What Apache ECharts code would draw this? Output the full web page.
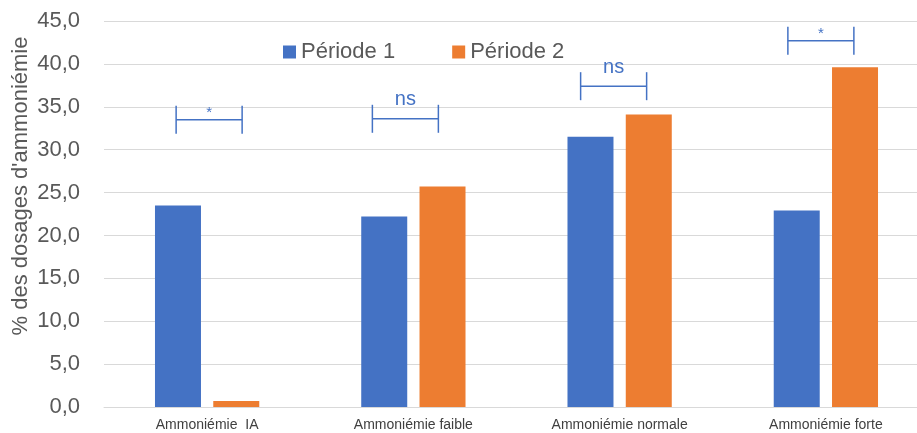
<!DOCTYPE html>
<html>
<head>
<meta charset="utf-8">
<title>Ammoniémie</title>
<script src="https://cdn.jsdelivr.net/npm/echarts@6/dist/echarts.min.js"></script>
<style>
  html, body { margin: 0; padding: 0; background: #fff; overflow: hidden; }
  #chart { width: 917px; height: 433px; }
</style>
</head>
<body>
<div id="chart"></div>
<script>
// categories et valeurs
var categories = ['Ammoniémie  IA', 'Ammoniémie faible', 'Ammoniémie normale', 'Ammoniémie forte'];
var periode1 = [23.5, 22.2, 31.5, 22.9];
var periode2 = [0.7, 25.7, 34.1, 39.6];
var yTicks = [0, 5, 10, 15, 20, 25, 30, 35, 40, 45];

// tests statistiques (crochets)
var bracketCats = [0, 1, 2, 3];
var bracketLevels = [33.5, 33.6, 37.4, 42.7];
var bracketLabels = ['*', 'ns', 'ns', '*'];

// decalage horizontal des crochets (px), comme dans le fichier Excel
var bracketShift = [2, -8, -6, -5];

var myChart = echarts.init(document.getElementById('chart'));

var bracketData = bracketCats.map(function (c, i) {
    return [c, bracketLevels[i], bracketLabels[i]];
});

var option = {
    backgroundColor: '#fff',
    animation: false,
    textStyle: { fontFamily: 'Liberation Sans, Arial, sans-serif' },
    grid: { left: 104, right: -12, top: 21, bottom: 26, containLabel: false, outerBoundsMode: 'none' },
    legend: {
        data: ['Période 1', 'Période 2'],
        left: 278,
        top: 36,
        itemWidth: 13,
        itemHeight: 13,
        itemGap: 57,
        icon: 'rect',
        textStyle: { fontSize: 22, color: '#595959' }
    },
    xAxis: {
        type: 'category',
        data: categories,
        axisTick: { show: false },
        axisLine: { lineStyle: { color: '#d9d9d9', width: 1 } },
        axisLabel: { fontSize: 14, color: '#404040', margin: 11 }
    },
    yAxis: {
        type: 'value',
        min: yTicks[0],
        max: yTicks[yTicks.length - 1],
        interval: 5,
        axisLabel: {
            fontSize: 22,
            color: '#595959',
            margin: 24,
            formatter: function (v) { return v.toFixed(1).replace('.', ','); }
        },
        splitLine: { lineStyle: { color: '#d9d9d9', width: 1 } }
    },
    graphic: [{
        type: 'text',
        x: 21,
        y: 186,
        rotation: Math.PI / 2,
        style: {
            text: "% des dosages d'ammoniémie",
            fontSize: 22,
            fill: '#595959',
            align: 'center',
            verticalAlign: 'middle',
            fontFamily: 'Liberation Sans, Arial, sans-serif'
        }
    }],
    series: [
        {
            name: 'Période 1',
            type: 'bar',
            data: periode1,
            barWidth: 46,
            barGap: '26.7%',
            itemStyle: { color: '#4472C4' }
        },
        {
            name: 'Période 2',
            type: 'bar',
            data: periode2,
            barWidth: 46,
            itemStyle: { color: '#ED7D31' }
        },
        {
            type: 'custom',
            data: bracketData,
            clip: false,
            z: 10,
            renderItem: function (params, api) {
                var p = api.coord([api.value(0), api.value(1)]);
                var cx = p[0] + bracketShift[params.dataIndex], cy = p[1];
                var hw = 33, th = 14;
                var lbl = bracketLabels[params.dataIndex];
                var star = lbl === '*';
                var st = { stroke: '#4472C4', lineWidth: 1.5 };
                return {
                    type: 'group',
                    children: [
                        { type: 'line', shape: { x1: cx - hw, y1: cy, x2: cx + hw, y2: cy }, style: st },
                        { type: 'line', shape: { x1: cx - hw, y1: cy - th, x2: cx - hw, y2: cy + th }, style: st },
                        { type: 'line', shape: { x1: cx + hw, y1: cy - th, x2: cx + hw, y2: cy + th }, style: st },
                        {
                            type: 'text',
                            x: cx,
                            y: cy - (star ? 7 : 19),
                            style: {
                                text: lbl,
                                fontSize: star ? 15 : 20,
                                fill: '#4472C4',
                                align: 'center',
                                verticalAlign: 'middle',
                                fontFamily: 'Liberation Sans, Arial, sans-serif'
                            }
                        }
                    ]
                };
            }
        }
    ]
};

myChart.setOption(option);
</script>
</body>
</html>
